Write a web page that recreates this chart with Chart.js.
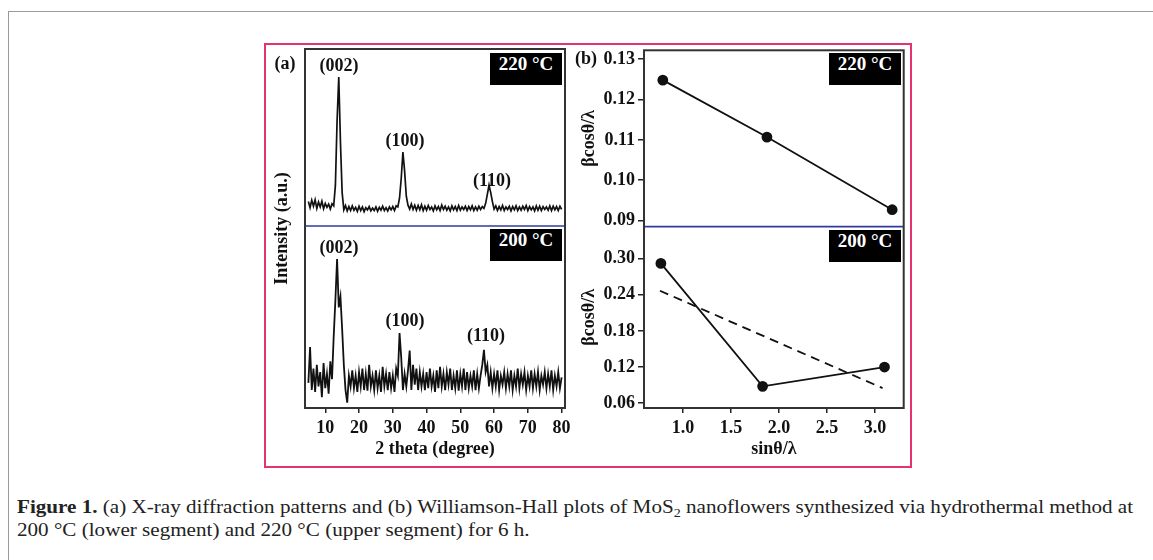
<!DOCTYPE html>
<html>
<head>
<meta charset="utf-8">
<script src="https://cdn.jsdelivr.net/npm/chart.js@4.4.1/dist/chart.umd.min.js"></script>
<style>
  body { margin: 0; width: 1153px; height: 560px; background: #fff; position: relative; overflow: hidden; font-family: "Liberation Serif", "Times New Roman", serif; }
  #outer { position: absolute; left: 8px; top: 11px; width: 1200px; height: 600px; border-left: 1.5px solid #9a9a9a; border-top: 1.5px solid #9a9a9a; }
  #pink { position: absolute; left: 264px; top: 43px; width: 648px; height: 425px; box-sizing: border-box; border: 2px solid #e6336f; }
  .wrap { position: absolute; }
  .box { position: absolute; width: 72px; height: 32px; line-height: 32px; background: #000; color: #fff; font: bold 19px "Liberation Serif", serif; text-align: center; }
  .lbl { position: absolute; font: bold 18px "Liberation Serif", serif; color: #111; transform: translate(-50%, -50%); white-space: nowrap; }
  #caption { position: absolute; left: 17px; top: 496px; font-size: 18px; line-height: 23px; color: #222; white-space: nowrap; transform-origin: 0 0; }
  .sub { position: relative; top: 4px; font-size: 12px; line-height: 0; }
</style>
</head>
<body>
<div id="outer"></div>
<div id="pink"></div>
<div class="wrap" style="left:268px;top:44px;"><canvas id="xrdChart" width="306" height="420"></canvas></div>
<div class="wrap" style="left:575px;top:44px;"><canvas id="whChart" width="335" height="420"></canvas></div>

<div class="lbl" style="left:285px;top:63px;">(a)</div>
<div class="lbl" style="left:586px;top:58px;">(b)</div>
<div class="lbl" style="left:339px;top:65px;">(002)</div>
<div class="lbl" style="left:405px;top:140px;">(100)</div>
<div class="lbl" style="left:492px;top:180px;">(110)</div>
<div class="lbl" style="left:339px;top:247px;">(002)</div>
<div class="lbl" style="left:405px;top:320px;">(100)</div>
<div class="lbl" style="left:486px;top:335px;">(110)</div>
<div class="box" style="left:490px;top:53px;">220 °C</div>
<div class="box" style="left:829px;top:53px;">220 °C</div>
<div class="box" style="left:490px;top:229px;">200 °C</div>
<div class="box" style="left:829px;top:230px;">200 °C</div>

<div id="caption"><span id="capLine"><b>Figure 1.</b> (a) X-ray diffraction patterns and (b) Williamson-Hall plots of MoS<span class="sub">2</span> nanoflowers synthesized via hydrothermal method at</span><br>200 °C (lower segment) and 220 °C (upper segment) for 6 h.</div>

<script>
// XRD patterns, 2 theta from 5 to 80 in 0.5 degree steps (intensity in a.u., stacked)
var xrdStart = 5, xrdStep = 0.5;
var xrd220 = [
  57.5,55.8,57.9,56.2,58.0,55.6,57.4,56.0,57.6,55.5,
  57.0,55.9,56.8,55.4,56.9,56.3,62.0,80.0,92.2,74.0,
  60.0,55.2,56.4,54.9,56.1,55.0,56.3,55.1,55.9,54.8,
  56.2,55.0,56.0,54.7,55.8,55.2,56.1,54.9,55.7,55.0,
  56.0,54.8,55.9,55.1,56.2,55.0,55.8,54.9,56.0,55.2,
  56.1,55.0,56.3,56.0,58.5,64.0,71.3,66.0,59.0,56.5,
  55.4,56.8,55.3,56.5,55.1,56.4,55.2,56.6,55.0,56.2,
  55.1,56.4,55.3,56.0,54.9,56.3,55.2,56.1,55.0,56.5,
  55.3,56.2,55.1,56.0,54.9,56.3,55.2,56.1,55.0,56.4,
  55.1,56.0,55.3,56.2,55.0,56.1,55.2,56.3,55.0,56.0,
  55.1,56.2,55.3,56.1,55.6,57.0,59.5,62.1,60.0,57.5,
  55.4,56.3,55.0,56.1,55.2,56.4,55.0,56.0,55.3,56.2,
  54.9,56.1,55.2,56.3,55.0,56.0,55.1,56.2,55.3,56.4,
  55.0,56.1,55.2,56.0,54.9,56.3,55.1,56.2,55.0,56.1,
  55.3,56.0,55.1,56.3,55.0,56.2,55.2,56.1,55.0,56.2,
  55.3
];
var xrd200 = [
  7.0,17.0,5.0,11.0,4.5,12.0,6.0,10.0,3.0,12.5,
  5.5,9.5,4.0,13.0,8.0,20.0,30.0,41.5,28.0,31.0,
  22.0,12.0,5.0,1.5,9.0,6.0,10.5,5.5,9.0,4.5,
  10.0,6.0,11.0,5.0,9.5,4.8,12.0,6.0,9.0,5.0,
  10.5,5.5,9.0,4.5,11.5,6.0,9.5,5.0,10.0,5.5,
  9.0,4.5,11.0,9.0,20.9,14.0,5.0,9.5,6.0,10.5,
  16.0,5.0,12.0,6.5,11.0,5.0,10.0,6.0,9.5,5.0,
  10.0,5.5,11.0,6.0,9.0,4.5,10.5,5.5,11.5,6.0,
  9.5,5.0,10.0,6.5,11.0,5.0,9.0,5.5,10.5,4.8,
  9.5,6.0,11.0,5.0,10.0,5.5,9.0,6.0,10.5,5.0,
  9.5,5.5,9.0,12.0,16.2,10.0,12.0,6.0,10.0,5.5,
  9.5,6.0,10.5,5.0,9.0,6.5,10.0,5.5,9.5,6.0,
  10.5,5.0,9.0,6.0,11.0,5.5,9.5,6.5,10.0,5.0,
  9.0,6.0,10.5,5.5,9.5,6.0,10.0,5.0,9.0,6.5,
  10.0,5.5,9.5,6.0,10.5,5.0,9.0,6.0,10.0,5.5,
  8.5
];
var xrdTicks = [10, 20, 30, 40, 50, 60, 70, 80];
var xrdSplit = 50.7; // blue divider between the two patterns

// Williamson-Hall plots
var wh220X = [0.79, 1.875, 3.18];
var wh220Y = [0.1248, 0.1107, 0.0927];
var wh200X = [0.77, 1.83, 3.10];
var wh200Y = [0.292, 0.088, 0.120];
var fit200X = [0.76, 3.08];
var fit200Y = [0.2466, 0.085];
var whTicksX = [1.0, 1.5, 2.0, 2.5, 3.0];
var whTicks220 = [0.09, 0.10, 0.11, 0.12, 0.13];
var whTicks200 = [0.06, 0.12, 0.18, 0.24, 0.30];

Chart.defaults.font.family = '"Liberation Serif", "Times New Roman", serif';
Chart.defaults.color = '#111';
var tickFont = { size: 18, weight: 'bold' };

function pts(xs, ys) {
  return ys.map(function(y, i) { return { x: xs[i], y: y }; });
}
function xrdPts(ys) {
  return ys.map(function(y, i) { return { x: xrdStart + i * xrdStep, y: y }; });
}
function fixedTicks(list) {
  return function(axis) { axis.ticks = list.map(function(v) { return { value: v }; }); };
}
// fixed axis sizes, no extra label padding so the plot boxes land where they should
function fitX(s) { s.height = 56; s.paddingLeft = 0; s.paddingRight = 0; }
function fitY(w) {
  return function(s) { s.width = w; s.paddingTop = 0; s.paddingBottom = 0; };
}

// plot frame and blue divider
var framePlugin = {
  id: 'frame',
  afterDatasetsDraw: function(chart, args, opts) {
    var ctx = chart.ctx, a = chart.chartArea;
    var y = opts.splitY(chart);
    ctx.save();
    ctx.strokeStyle = '#2f3c9e';
    ctx.lineWidth = 1.6;
    ctx.beginPath(); ctx.moveTo(a.left, y); ctx.lineTo(a.right, y); ctx.stroke();
    ctx.strokeStyle = '#333';
    ctx.lineWidth = 2;
    ctx.strokeRect(a.left, a.top, a.right - a.left, a.bottom - a.top);
    ctx.restore();
  }
};

var tickGrid = { drawOnChartArea: false, drawTicks: true, tickLength: 5, tickColor: '#222', lineWidth: 1.5 };
var yTickGrid = { drawOnChartArea: false, drawTicks: true, tickLength: 6, tickColor: '#222', lineWidth: 1.5 };

// (a) XRD
new Chart(document.getElementById('xrdChart'), {
  type: 'line',
  data: {
    datasets: [
      { data: xrdPts(xrd220), borderColor: '#111', borderWidth: 1.7, pointRadius: 0 },
      { data: xrdPts(xrd200), borderColor: '#111', borderWidth: 1.8, pointRadius: 0 }
    ]
  },
  options: {
    responsive: false,
    animation: false,
    layout: { padding: { top: 5, right: 9, left: 0, bottom: 0 } },
    plugins: { legend: { display: false }, tooltip: { enabled: false },
      frame: { splitY: function(c) { return c.scales.y.getPixelForValue(xrdSplit); } } },
    scales: {
      x: {
        type: 'linear', min: 4, max: 81,
        afterBuildTicks: fixedTicks(xrdTicks),
        ticks: { font: tickFont, padding: 5, maxRotation: 0 },
        grid: tickGrid,
        border: { display: false },
        title: { display: true, text: '2 theta (degree)', font: tickFont, padding: { top: 0, bottom: 4 } },
        afterFit: fitX
      },
      y: {
        min: 0, max: 100,
        ticks: { display: false },
        grid: { display: false },
        border: { display: false },
        title: { display: true, text: 'Intensity (a.u.)', font: tickFont },
        afterFit: fitY(37)
      }
    }
  },
  plugins: [framePlugin]
});

// (b) Williamson-Hall
new Chart(document.getElementById('whChart'), {
  type: 'line',
  data: {
    datasets: [
      { data: pts(wh220X, wh220Y), yAxisID: 'yTop', borderColor: '#111', borderWidth: 1.8,
        pointRadius: 4.5, pointBackgroundColor: '#111', pointBorderColor: '#111' },
      { data: pts(wh200X, wh200Y), yAxisID: 'yBot', borderColor: '#111', borderWidth: 1.8,
        pointRadius: 4.5, pointBackgroundColor: '#111', pointBorderColor: '#111' },
      { data: pts(fit200X, fit200Y), yAxisID: 'yBot', borderColor: '#111', borderWidth: 1.8,
        borderDash: [9, 6], pointRadius: 0 }
    ]
  },
  options: {
    responsive: false,
    animation: false,
    layout: { padding: { top: 5, right: 5, left: 0, bottom: 0 } },
    plugins: { legend: { display: false }, tooltip: { enabled: false },
      frame: { splitY: function(c) { return c.scales.yTop.bottom; } } },
    scales: {
      x: {
        type: 'linear', min: 0.594, max: 3.30,
        afterBuildTicks: fixedTicks(whTicksX),
        ticks: { font: tickFont, padding: 5, maxRotation: 0, callback: function(v) { return v.toFixed(1); } },
        grid: tickGrid,
        border: { display: false },
        title: { display: true, text: 'sinθ/λ', font: tickFont, padding: { top: 0, bottom: 4 } },
        afterFit: fitX
      },
      yBot: {
        type: 'linear', position: 'left', stack: 'wh', stackWeight: 182,
        min: 0.052, max: 0.353,
        afterBuildTicks: fixedTicks(whTicks200),
        ticks: { font: tickFont, padding: 3, callback: function(v) { return v.toFixed(2); } },
        grid: yTickGrid,
        border: { display: false },
        title: { display: true, text: 'βcosθ/λ', font: tickFont },
        afterFit: fitY(69)
      },
      yTop: {
        type: 'linear', position: 'left', stack: 'wh', stackWeight: 177,
        min: 0.0885, max: 0.1322,
        afterBuildTicks: fixedTicks(whTicks220),
        ticks: { font: tickFont, padding: 3, callback: function(v) { return v.toFixed(2); } },
        grid: yTickGrid,
        border: { display: false },
        title: { display: true, text: 'βcosθ/λ', font: tickFont },
        afterFit: fitY(69)
      }
    }
  },
  plugins: [framePlugin]
});

// squeeze the caption to the printed line width
var cap = document.getElementById('caption');
var w = document.getElementById('capLine').offsetWidth;
cap.style.transform = 'scaleX(' + (1116 / w) + ')';
</script>
</body>
</html>
